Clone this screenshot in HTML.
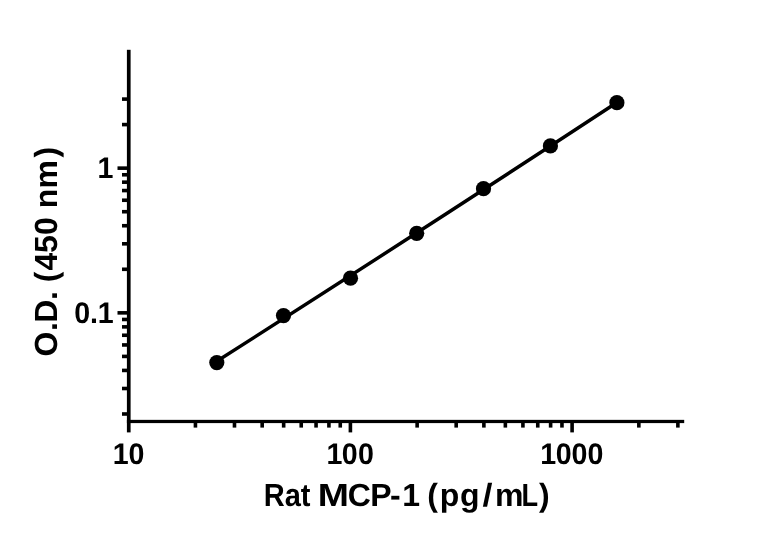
<!DOCTYPE html>
<html lang="en">
<head>
<meta charset="utf-8">
<title>Rat MCP-1 standard curve</title>
<style>
html,body{margin:0;padding:0;background:#fff;}
body{width:768px;height:538px;overflow:hidden;}
svg{display:block;}
text{font-family:"Liberation Sans",sans-serif;font-weight:bold;fill:#000;font-kerning:none;white-space:pre;text-rendering:geometricPrecision;}
</style>
</head>
<body>
<svg width="768" height="538" viewBox="0 0 768 538">
<rect width="768" height="538" fill="#fff"/>
<g fill="#000">
<rect x="126.90" y="49.80" width="3.70" height="382.60"/>
<rect x="126.90" y="419.85" width="557.30" height="3.25"/>
<rect x="117.50" y="166.35" width="10.40" height="3.60"/>
<rect x="117.50" y="311.05" width="10.40" height="3.60"/>
<rect x="122.00" y="97.31" width="5.90" height="3.60"/>
<rect x="122.00" y="122.79" width="5.90" height="3.60"/>
<rect x="122.00" y="267.49" width="5.90" height="3.60"/>
<rect x="122.00" y="242.01" width="5.90" height="3.60"/>
<rect x="122.00" y="223.93" width="5.90" height="3.60"/>
<rect x="122.00" y="209.91" width="5.90" height="3.60"/>
<rect x="122.00" y="198.45" width="5.90" height="3.60"/>
<rect x="122.00" y="188.76" width="5.90" height="3.60"/>
<rect x="122.00" y="180.37" width="5.90" height="3.60"/>
<rect x="122.00" y="172.97" width="5.90" height="3.60"/>
<rect x="122.00" y="412.19" width="5.90" height="3.60"/>
<rect x="122.00" y="386.71" width="5.90" height="3.60"/>
<rect x="122.00" y="368.63" width="5.90" height="3.60"/>
<rect x="122.00" y="354.61" width="5.90" height="3.60"/>
<rect x="122.00" y="343.15" width="5.90" height="3.60"/>
<rect x="122.00" y="333.46" width="5.90" height="3.60"/>
<rect x="122.00" y="325.07" width="5.90" height="3.60"/>
<rect x="122.00" y="317.67" width="5.90" height="3.60"/>
<rect x="348.60" y="422.10" width="3.60" height="10.30"/>
<rect x="570.30" y="422.10" width="3.60" height="10.30"/>
<rect x="193.64" y="422.10" width="3.60" height="5.50"/>
<rect x="232.68" y="422.10" width="3.60" height="5.50"/>
<rect x="260.38" y="422.10" width="3.60" height="5.50"/>
<rect x="281.86" y="422.10" width="3.60" height="5.50"/>
<rect x="299.42" y="422.10" width="3.60" height="5.50"/>
<rect x="314.26" y="422.10" width="3.60" height="5.50"/>
<rect x="327.12" y="422.10" width="3.60" height="5.50"/>
<rect x="338.46" y="422.10" width="3.60" height="5.50"/>
<rect x="415.34" y="422.10" width="3.60" height="5.50"/>
<rect x="454.38" y="422.10" width="3.60" height="5.50"/>
<rect x="482.08" y="422.10" width="3.60" height="5.50"/>
<rect x="503.56" y="422.10" width="3.60" height="5.50"/>
<rect x="521.12" y="422.10" width="3.60" height="5.50"/>
<rect x="535.96" y="422.10" width="3.60" height="5.50"/>
<rect x="548.82" y="422.10" width="3.60" height="5.50"/>
<rect x="560.16" y="422.10" width="3.60" height="5.50"/>
<rect x="637.04" y="422.10" width="3.60" height="5.50"/>
<rect x="676.08" y="422.10" width="3.60" height="5.50"/>
</g>
<path d="M216.8 361.2 Q416.85 233.75 616.9 102.5" fill="none" stroke="#000" stroke-width="3.45" stroke-linecap="round"/>
<circle cx="216.8" cy="362.6" r="7.6" fill="#000"/>
<circle cx="283.5" cy="315.6" r="7.6" fill="#000"/>
<circle cx="350.5" cy="278.2" r="7.6" fill="#000"/>
<circle cx="416.7" cy="233.3" r="7.6" fill="#000"/>
<circle cx="483.5" cy="188.7" r="7.6" fill="#000"/>
<circle cx="550.4" cy="145.9" r="7.6" fill="#000"/>
<circle cx="616.9" cy="102.7" r="7.6" fill="#000"/>
<g font-size="29.8">
<text transform="translate(97.60 177.9) scale(0.96 1)" x="0.00" y="0">1</text>
<text transform="translate(74.17 322.9) scale(0.96 1)" x="0.00 16.48 24.51" y="0">0.1</text>
<text transform="translate(112.70 464.4) scale(0.96 1)" x="0.00 16.37" y="0">10</text>
<text transform="translate(326.40 464.4) scale(0.96 1)" x="0.00 16.11 32.83" y="0">100</text>
<text transform="translate(540.20 464.4) scale(0.96 1)" x="0.00 16.16 32.68 49.19" y="0">1000</text>
</g>
<text y="505.8" font-size="32"><tspan x="263.66" textLength="46.80" lengthAdjust="spacingAndGlyphs">Rat</tspan> <tspan x="317.66" textLength="31.19" lengthAdjust="spacingAndGlyphs">M</tspan><tspan x="347.78 370.15 389.99 402.14">CP-1</tspan> <tspan x="427.37 439.73 459.89">(pg</tspan><tspan x="482.42" textLength="9.96" lengthAdjust="spacingAndGlyphs">/</tspan><tspan x="495.06">m</tspan><tspan x="521.45" textLength="16.61" lengthAdjust="spacingAndGlyphs">L</tspan><tspan x="538.95">)</tspan></text>
<text transform="translate(57.4 355.2) rotate(-90)" y="0" font-size="32"><tspan x="-1.43 24.17 32.40 55.32">O.D.</tspan> <tspan x="73.04 84.75 102.20 120.28">(450</tspan> <tspan x="147.01 166.71 197.60">nm)</tspan></text>
</svg>
</body>
</html>
